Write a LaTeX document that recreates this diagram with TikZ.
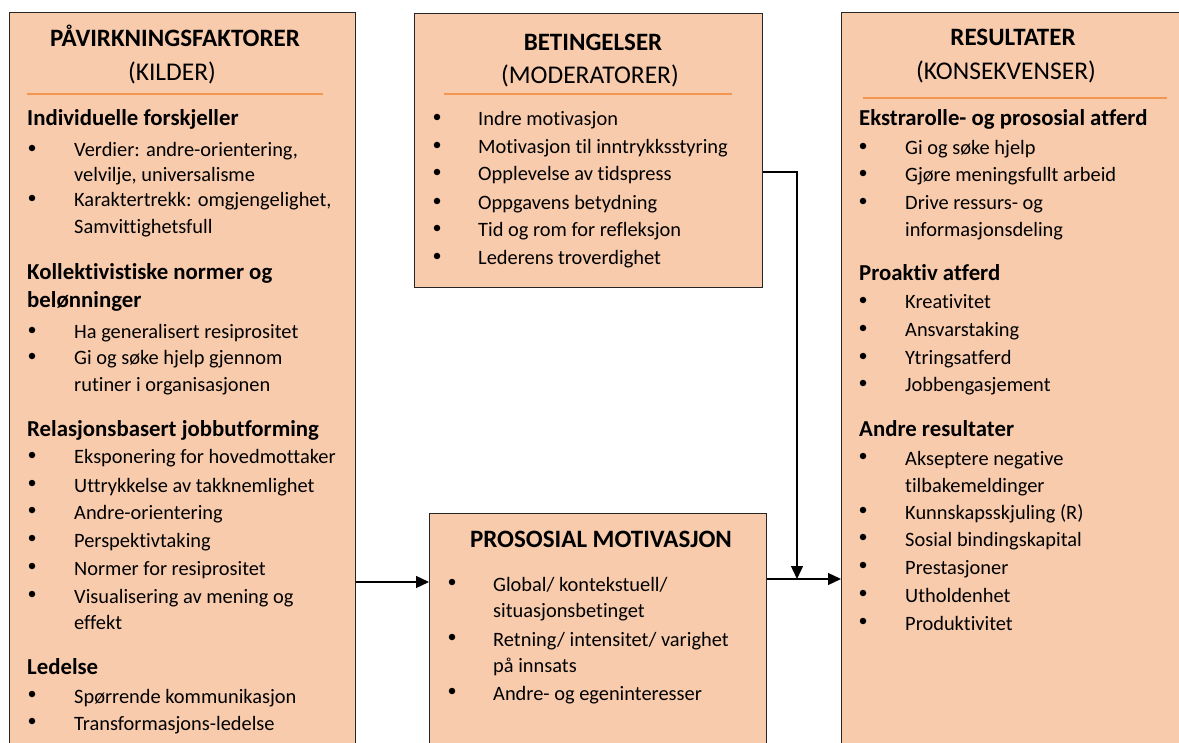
\documentclass[tikz,border=0pt]{standalone}
\usepackage{fontspec}
\setmainfont{Carlito}[Ligatures=NoCommon]
\usetikzlibrary{arrows.meta,calc}
\definecolor{peach}{HTML}{F8CBAD}
\definecolor{orangeline}{HTML}{F29650}
\definecolor{frame}{HTML}{262626}
\begin{document}
\begin{tikzpicture}[x=1pt,y=-1pt,
  box/.style={draw=frame, line width=1.3pt, fill=peach, anchor=north west, inner sep=0pt},
  ttl/.style={font=\fontsize{25}{29}\selectfont\bfseries, anchor=base, inner sep=0pt},
  sub/.style={font=\fontsize{25.5}{29}\selectfont, anchor=base, inner sep=0pt},
  hd/.style={font=\fontsize{22.8}{26}\selectfont\bfseries, anchor=base west, inner sep=0pt},
  it/.style={font=\fontsize{20.4}{24}\selectfont, anchor=base west, inner sep=0pt},
  bul/.style={circle, fill=black, inner sep=0pt, minimum size=6.5pt},
  arr/.style={draw=black, line width=1.3pt, -{Triangle[length=13pt,width=12pt]}},
  sep/.style={draw=orangeline, line width=1.5pt}]
\clip (0,0) rectangle (1179,743);
\fill[white] (0,0) rectangle (1179,743);
% boxes
\node[box, minimum width=346pt, minimum height=760pt] (src) at (9,12) {};
\node[box, minimum width=348pt, minimum height=274pt] (bet) at (414,13) {};
\node[box, minimum width=337pt, minimum height=260pt] (pro) at (429,513) {};
\node[box, minimum width=350pt, minimum height=760pt] (res) at (841,12) {};
% titles
\node[ttl] (t1) at (175,47) {PÅVIRKNINGSFAKTORER};
\node[sub] (t1b) at (172,81) {(KILDER)};
\node[ttl] (t2) at (593,51) {BETINGELSER};
\node[sub] (t2b) at (590,84) {(MODERATORER)};
\node[ttl] (t3) at (1013,46) {RESULTATER};
\node[sub] (t3b) at (1006,80) {(KONSEKVENSER)};
\node[ttl] (t4) at (601,547) {PROSOSIAL MOTIVASJON};
% separators
\draw[sep] (27,94) -- (323,94);
\draw[sep] (444,94) -- (732,94);
\draw[sep] (863,98) -- (1167,98);
% left headings
\node[hd] (h1) at (27,126) {Individuelle forskjeller};
\node[hd] (h2) at (27,280) {Kollektivistiske normer og};
\node[hd] (h3) at (27,308) {belønninger};
\node[hd] (h4) at (27,436) {Relasjonsbasert jobbutforming};
\node[hd] (h5) at (27,674) {Ledelse};
\foreach \y/\t/\b [count=\i] in {
  150/{Verdier: andre-orientering,}/1,
  175/{velvilje, universalisme}/0,
  200/{Karaktertrekk: omgjengelighet,}/1,
  227/{Samvittighetsfull}/0,
  332/{Ha generalisert resiprositet}/1,
  358/{Gi og søke hjelp gjennom}/1,
  385/{rutiner i organisasjonen}/0,
  457/{Eksponering for hovedmottaker}/1,
  485/{Uttrykkelse av takknemlighet}/1,
  512/{Andre-orientering}/1,
  540/{Perspektivtaking}/1,
  568/{Normer for resiprositet}/1,
  596/{Visualisering av mening og}/1,
  622/{effekt}/0,
  696/{Spørrende kommunikasjon}/1,
  723/{Transformasjons-ledelse}/1}{
  \node[it] (s\i) at (74,\y+7) {\t};
  \ifnum\b=1 \node[bul] (sb\i) at (32,\y-2) {};\fi
}
% betingelser items
\foreach \y/\t [count=\i] in {
  119/{Indre motivasjon},
  147/{Motivasjon til inntrykksstyring},
  174/{Opplevelse av tidspress},
  203/{Oppgavens betydning},
  230/{Tid og rom for refleksjon},
  258/{Lederens troverdighet}}{
  \node[it] (m\i) at (478,\y+7) {\t};
  \node[bul] (mb\i) at (437,\y-2) {};
}
% prosocial items
\foreach \y/\t/\b [count=\i] in {
  584/{Global/ kontekstuell/}/1,
  610/{situasjonsbetinget}/0,
  639/{Retning/ intensitet/ varighet}/1,
  665/{på innsats}/0,
  693/{Andre- og egeninteresser}/1}{
  \node[it] (p\i) at (493,\y+7) {\t};
  \ifnum\b=1 \node[bul] (pb\i) at (452,\y-2) {};\fi
}
% result headings
\node[hd] (r1) at (859,126) {Ekstrarolle- og prososial atferd};
\node[hd] (r2) at (859,281) {Proaktiv atferd};
\node[hd] (r3) at (859,437) {Andre resultater};
\foreach \y/\t/\b [count=\i] in {
  148/{Gi og søke hjelp}/1,
  175/{Gjøre meningsfullt arbeid}/1,
  203/{Drive ressurs- og}/1,
  230/{informasjonsdeling}/0,
  302/{Kreativitet}/1,
  330/{Ansvarstaking}/1,
  358/{Ytringsatferd}/1,
  385/{Jobbengasjement}/1,
  458/{Akseptere negative}/1,
  485/{tilbakemeldinger}/0,
  512/{Kunnskapsskjuling (R)}/1,
  539/{Sosial bindingskapital}/1,
  567/{Prestasjoner}/1,
  595/{Utholdenhet}/1,
  623/{Produktivitet}/1}{
  \node[it] (e\i) at (905,\y+7) {\t};
  \ifnum\b=1 \node[bul] (eb\i) at (863,\y-2) {};\fi
}
% connectors
\coordinate (y1) at (0,582);
\coordinate (y2) at (0,579);
\coordinate (y3) at (0,172);
\coordinate (xj) at (797,0);
\draw[arr] (src.east |- y1) -- (pro.west |- y1);
\draw[arr] (pro.east |- y2) -- (res.west |- y2);
\draw[arr] (bet.east |- y3) -- (xj |- y3) -- (xj |- y2);
\end{tikzpicture}
\end{document}
